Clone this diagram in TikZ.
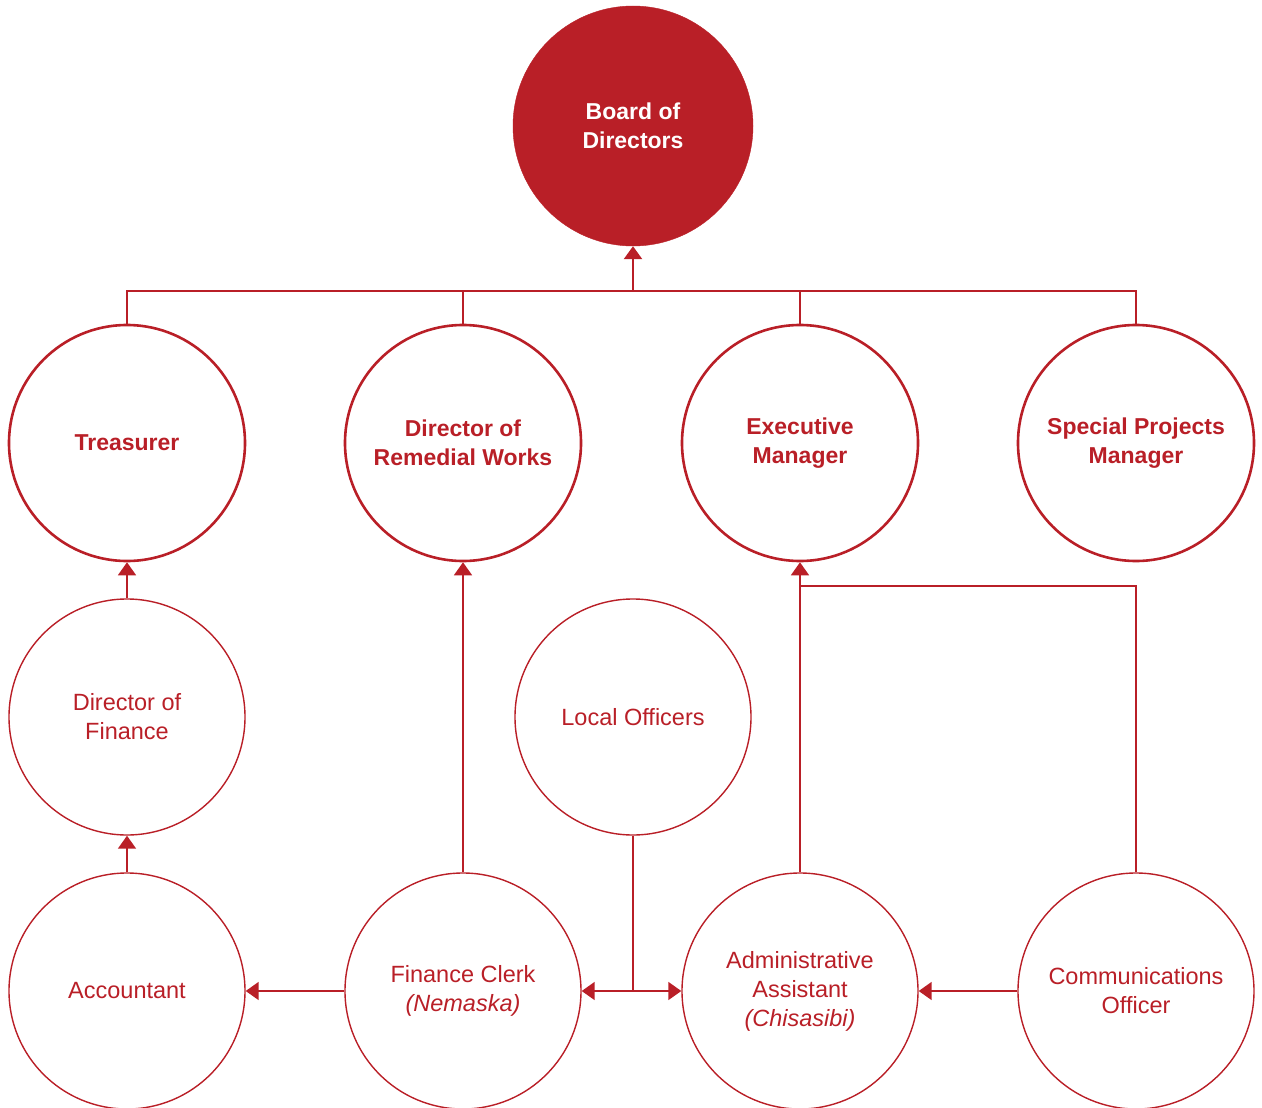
\documentclass[tikz,border=0pt]{standalone}
\usepackage{fontspec}
\setmainfont{Liberation Sans}
\usetikzlibrary{arrows.meta}
\definecolor{cred}{HTML}{B91F27}
\begin{document}
\begin{tikzpicture}[x=1pt,y=-1pt,
  every node/.style={font=\fontsize{23.5}{29}\selectfont, align=center, text=cred},
  topnode/.style={circle, fill=cred, draw=cred, minimum size=240pt, inner sep=0pt, text=white, font=\bfseries\fontsize{23}{29}\selectfont},
  midnode/.style={circle, draw=cred, line width=2.6pt, minimum size=236pt, inner sep=0pt, font=\bfseries\fontsize{23}{29}\selectfont},
  lownode/.style={circle, draw=cred, line width=1.4pt, minimum size=236pt, inner sep=0pt},
  link/.style={draw=cred, line width=1.6pt},
  buslink/.style={draw=cred, line width=2.6pt},
  arr/.style={link, -{Triangle[width=18pt,length=13pt]}},
  barr/.style={buslink, -{Triangle[width=18pt,length=13pt]}}
]
\useasboundingbox (0,0) rectangle (1262,1108);
\node[topnode] (board) at (633,126) {Board of\\Directors};
\node[midnode] (tre) at (127,443) {Treasurer};
\node[midnode] (drw) at (463,443) {Director of\\Remedial Works};
\node[midnode] (exe) at (800,443) {Executive\\Manager};
\node[midnode] (spm) at (1136,443) {Special Projects\\Manager};
\node[lownode] (dfin) at (127,717) {Director of\\Finance};
\node[lownode] (lo) at (633,717) {Local Officers};
\node[lownode] (acc) at (127,991) {Accountant};
\node[lownode] (fc) at (463,991) {Finance Clerk\\\itshape(Nemaska)};
\node[lownode] (aa) at (800,991) {Administrative\\Assistant\\\itshape(Chisasibi)};
\node[lownode] (co) at (1136,991) {Communications\\Officer};
\coordinate (bus) at (633,291);
\coordinate (join) at (800,586);
\draw[buslink] (tre.north) -- (tre.north |- bus) -- (spm.north |- bus) -- (spm.north);
\draw[buslink] (drw.north) -- (drw.north |- bus);
\draw[buslink] (exe.north) -- (exe.north |- bus);
\draw[barr] (bus) -- (board.south);
\draw[arr] (dfin) -- (tre);
\draw[arr] (acc) -- (dfin);
\draw[arr] (fc) -- (drw);
\draw[arr] (aa) -- (exe);
\draw[link] (co.north) |- (join);
\draw[arr] (fc) -- (acc);
\draw[arr] (co) -- (aa);
\draw[link] (lo.south) -- (lo.south |- fc.center) coordinate (mid);
\draw[arr] (mid) -- (fc.east);
\draw[arr] (mid) -- (aa.west);
\end{tikzpicture}
\end{document}
